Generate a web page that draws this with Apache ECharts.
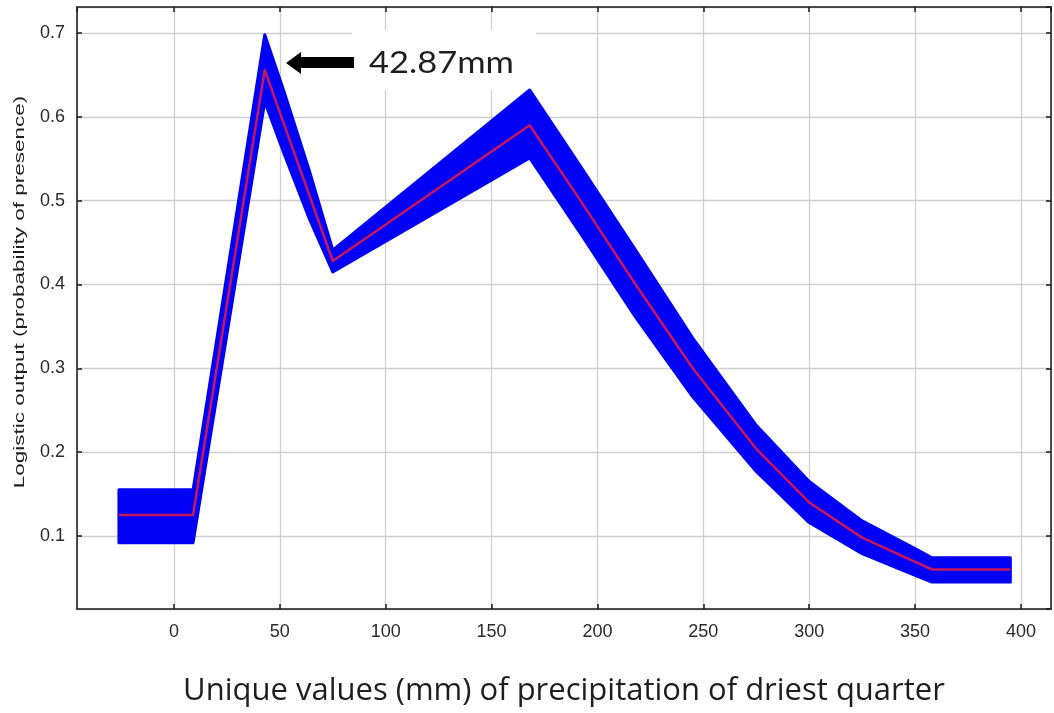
<!DOCTYPE html>
<html>
<head>
<meta charset="utf-8">
<script src="https://cdn.jsdelivr.net/npm/echarts@6/dist/echarts.min.js"></script>
<style>
html,body{margin:0;padding:0;background:#fff;}
#c{width:1054px;height:713px;}
</style>
</head>
<body>
<div id="c"></div>
<script>
// x values (mm) where the response curve changes
const xVals = [-26, 9, 42.87, 52, 64, 75, 168, 192, 218, 245, 275, 300, 325, 350, 358, 395];
// mean logistic output (red line)
const meanVals = [0.125, 0.125, 0.656, 0.591, 0.506, 0.428, 0.590, 0.500, 0.400, 0.300, 0.204, 0.140, 0.098, 0.069, 0.060, 0.060];
// upper and lower envelopes of replicate curves (blue band)
const upperVals = [0.155, 0.155, 0.698, 0.630, 0.535, 0.441, 0.632, 0.541, 0.441, 0.336, 0.232, 0.165, 0.118, 0.085, 0.074, 0.074];
const lowerVals = [0.092, 0.092, 0.618, 0.556, 0.478, 0.415, 0.551, 0.461, 0.361, 0.266, 0.177, 0.116, 0.079, 0.053, 0.045, 0.045];
// tick labels
const xTicks = [0, 50, 100, 150, 200, 250, 300, 350, 400];
const yTicks = [0.1, 0.2, 0.3, 0.4, 0.5, 0.6, 0.7];
const xTitle = 'Unique values (mm) of precipitation of driest quarter';
const yTitle = 'Logistic output (probability of presence)';
const annotation = '42.87mm';

const X_MIN = -45.8, X_MAX = 414.2, Y_MIN = 0.0129, Y_MAX = 0.731;

const chart = echarts.init(document.getElementById('c'), null, {renderer: 'canvas'});

function near(v, arr, eps) { return arr.some(t => Math.abs(t - v) < eps); }

const axisCommon = {
  axisLine: {show: true, onZero: false, lineStyle: {color: '#1a1a1a', width: 1.5}},
  axisTick: {show: true, inside: true, length: 5, lineStyle: {color: '#1a1a1a', width: 1.5}}
};

const option = {
  animation: false,
  backgroundColor: '#ffffff',
  grid: {left: 77, right: 3, top: 7, bottom: 104, containLabel: false},
  xAxis: [
    Object.assign({
      type: 'value', min: X_MIN, max: X_MAX, splitNumber: 9, position: 'bottom',
      name: xTitle, nameLocation: 'middle', nameGap: 67,
      nameTextStyle: {fontFamily: 'Open Sans', fontSize: 31, color: '#1e1e1e'},
      axisLabel: {
        show: true, margin: 14, fontFamily: 'Liberation Sans, Arial', fontSize: 18, color: '#2a2a2a',
        showMinLabel: false, showMaxLabel: false,
        formatter: v => near(v, xTicks, 1e-6) ? String(v) : ''
      },
      splitLine: {show: true, lineStyle: {color: '#cfcfcf', width: 1.3}}
    }, axisCommon),
    Object.assign({
      type: 'value', min: X_MIN, max: X_MAX, splitNumber: 9, position: 'top',
      axisLabel: {show: false}, splitLine: {show: false}
    }, axisCommon)
  ],
  yAxis: [
    Object.assign({
      type: 'value', min: Y_MIN, max: Y_MAX, splitNumber: 7, position: 'left',
      axisLabel: {
        show: true, margin: 12, fontFamily: 'Liberation Sans, Arial', fontSize: 18, color: '#2a2a2a',
        showMinLabel: false, showMaxLabel: false,
        formatter: v => near(v, yTicks, 1e-6) ? v.toFixed(1) : ''
      },
      splitLine: {show: true, lineStyle: {color: '#cfcfcf', width: 1.3}}
    }, axisCommon),
    Object.assign({
      type: 'value', min: Y_MIN, max: Y_MAX, splitNumber: 7, position: 'right',
      axisLabel: {show: false}, splitLine: {show: false}
    }, axisCommon)
  ],
  series: [
    {
      type: 'custom',
      xAxisIndex: 0, yAxisIndex: 0,
      z: 2,
      data: [[xVals[0], meanVals[0]]],
      renderItem: function (params, api) {
        const pts = [];
        for (let i = 0; i < xVals.length; i++) pts.push(api.coord([xVals[i], upperVals[i]]));
        for (let i = xVals.length - 1; i >= 0; i--) pts.push(api.coord([xVals[i], lowerVals[i]]));
        return {
          type: 'polygon',
          shape: {points: pts, smooth: 0},
          style: {fill: '#0000f4', stroke: '#0000f4', lineWidth: 3, lineJoin: 'round'}
        };
      }
    },
    {
      type: 'line',
      xAxisIndex: 0, yAxisIndex: 0,
      z: 3,
      showSymbol: false,
      data: xVals.map((x, i) => [x, meanVals[i]]),
      lineStyle: {color: '#c8175f', width: 2.5, join: 'round'}
    }
  ],
  graphic: [
    {type: 'rect', z: 1, shape: {x: 352, y: 30, width: 184, height: 60}, style: {fill: '#ffffff'}},
    {type: 'polygon', z: 10, shape: {points: [[286, 63], [301, 52], [301, 57], [354, 57], [354, 68], [301, 68], [301, 74]]}, style: {fill: '#000000'}},
    {type: 'text', z: 10, x: 369, y: 63, scaleX: 1.15, style: {text: annotation, fontFamily: 'Lato', fontSize: 30, fill: '#1e1e1e', verticalAlign: 'middle', align: 'left'}},
    {type: 'text', z: 10, x: 20, y: 292, rotation: Math.PI / 2, scaleX: 1.5,
     style: {text: yTitle, fontFamily: 'Liberation Sans, Arial', fontSize: 15, fill: '#1e1e1e', align: 'center', verticalAlign: 'middle'}}
  ]
};
chart.setOption(option);
</script>
</body>
</html>
